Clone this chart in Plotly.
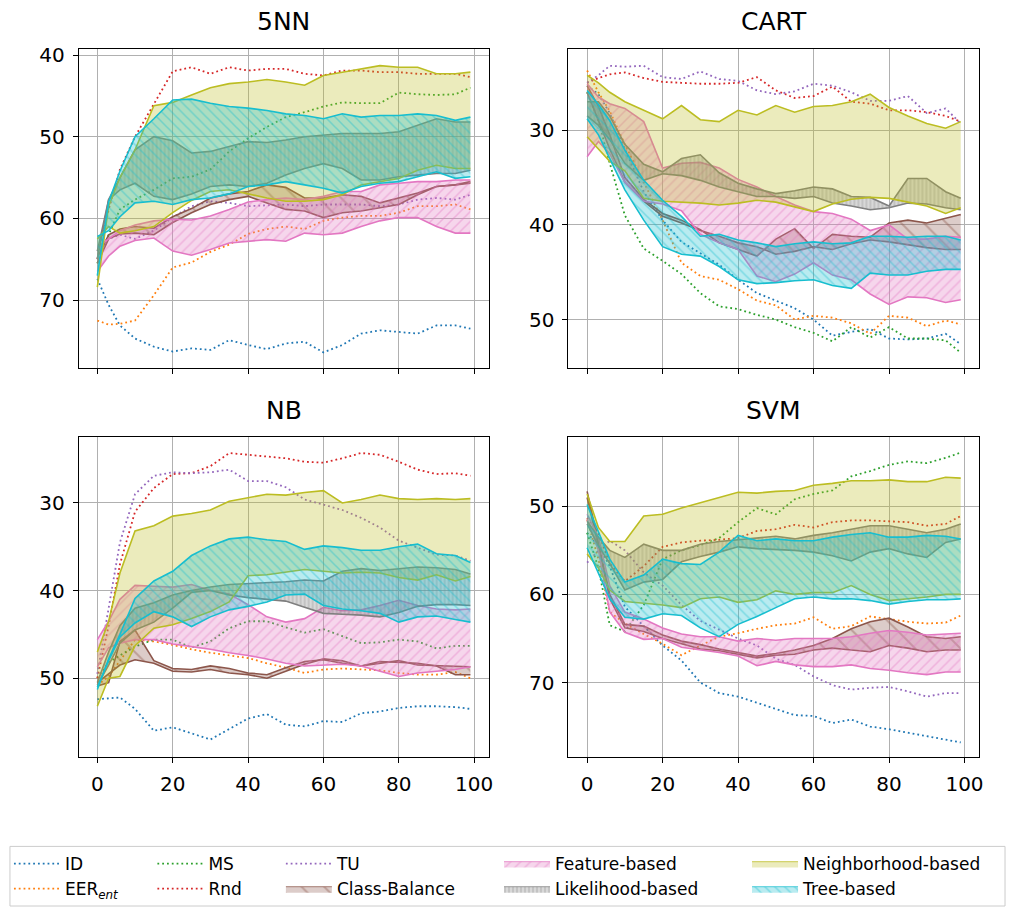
import plotly.graph_objects as go

W, H = 1013, 907
FONT = "DejaVu Sans"

X = [0, 3, 6, 10, 15, 20, 25, 30, 35, 40, 45, 50, 55, 60, 65, 70, 75, 80, 85, 90, 95, 99]

# ---------------- 5NN ----------------
knn_id = [67.4, 70.6, 73.1, 74.7, 75.7, 76.3, 75.9, 76.1, 74.9, 75.5, 76.0, 75.3, 75.1, 76.4, 75.5, 74.1, 73.7, 73.9, 74.1, 73.1, 73.1, 73.5]
knn_eer = [72.5, 73.0, 72.9, 72.5, 69.4, 66.0, 65.4, 64.1, 63.2, 61.9, 61.3, 61.0, 61.3, 60.3, 59.9, 59.7, 59.7, 59.3, 58.5, 58.5, 58.3, 58.9]
knn_ms = [65.5, 62.0, 58.9, 57.7, 56.5, 55.1, 54.9, 54.0, 51.8, 50.2, 48.8, 47.6, 47.0, 46.3, 45.8, 45.9, 45.9, 44.6, 44.8, 44.9, 44.8, 44.0]
knn_rnd = [65.0, 58.9, 54.0, 50.0, 46.0, 42.0, 41.5, 42.3, 41.5, 41.9, 41.7, 41.7, 42.3, 42.5, 41.9, 41.9, 42.1, 42.1, 42.3, 42.3, 42.3, 42.7]
knn_tu = [64.0, 62.5, 62.0, 62.5, 61.5, 59.9, 58.5, 57.9, 58.1, 58.5, 58.4, 58.3, 58.5, 58.3, 58.3, 58.3, 58.5, 58.3, 57.7, 57.5, 57.7, 57.1]
knn_cb_a = [64.8, 62.0, 61.3, 61.0, 61.2, 59.8, 58.8, 57.5, 57.0, 56.7, 55.9, 56.2, 57.5, 57.5, 57.1, 57.3, 58.1, 57.5, 56.9, 56.1, 55.9, 55.5]
knn_cb_b = [65.5, 62.5, 61.9, 61.8, 62.0, 60.5, 59.3, 58.3, 57.7, 57.3, 58.1, 58.9, 59.1, 59.9, 59.3, 59.1, 58.7, 58.3, 57.1, 56.1, 55.9, 55.7]
knn_fb_a = [63.5, 62.5, 61.5, 60.8, 60.3, 60.1, 60.2, 59.7, 58.9, 58.0, 57.7, 57.5, 57.7, 57.3, 56.7, 56.7, 55.9, 55.7, 55.5, 55.5, 55.3, 55.3]
knn_fb_b = [66.5, 64.6, 63.4, 62.7, 62.4, 64.0, 64.5, 63.8, 63.0, 62.8, 62.6, 62.8, 61.8, 62.0, 61.8, 61.0, 60.3, 59.9, 59.9, 61.0, 61.8, 61.8]
knn_lb_a = [64.0, 57.7, 55.0, 51.6, 50.0, 50.5, 52.0, 51.8, 51.2, 50.6, 50.7, 50.4, 50.0, 49.8, 49.6, 49.6, 49.6, 49.4, 48.6, 47.8, 48.2, 48.2]
knn_lb_b = [65.0, 57.7, 56.5, 55.7, 57.3, 57.7, 57.0, 56.1, 55.9, 56.1, 55.7, 54.7, 53.9, 53.3, 53.9, 55.3, 55.3, 54.9, 54.7, 54.5, 54.5, 54.1]
knn_nb_a = [68.4, 58.5, 55.0, 51.6, 46.2, 45.8, 44.9, 44.0, 43.5, 43.3, 43.0, 43.3, 43.7, 42.5, 42.1, 41.7, 41.3, 41.5, 41.5, 42.3, 42.3, 42.1]
knn_nb_b = [62.5, 61.0, 61.8, 61.5, 61.0, 59.3, 57.8, 56.7, 56.5, 57.0, 57.5, 57.9, 57.9, 57.7, 57.1, 55.9, 55.5, 55.1, 54.1, 53.5, 53.9, 53.9]
knn_tb_a = [67.0, 58.0, 54.2, 50.0, 47.8, 45.5, 45.4, 45.9, 46.3, 46.5, 46.8, 47.2, 47.4, 47.8, 47.2, 47.6, 47.4, 47.4, 47.2, 47.4, 48.0, 47.6]
knn_tb_b = [62.2, 61.5, 59.8, 58.1, 57.9, 58.3, 57.7, 57.5, 57.0, 56.1, 55.9, 55.5, 55.9, 56.3, 56.9, 56.1, 55.7, 55.5, 54.9, 54.3, 55.1, 54.9]

# ---------------- CART ----------------
cart_id = [25.3, 26.2, 28.2, 32.0, 36.5, 39.5, 41.8, 43.0, 44.2, 45.8, 47.2, 48.0, 48.8, 50.0, 51.7, 51.3, 51.0, 52.0, 52.1, 52.0, 51.5, 52.6]
cart_eer = [23.7, 26.0, 28.0, 31.5, 35.5, 39.5, 44.0, 45.4, 45.8, 46.8, 48.0, 48.5, 50.0, 49.6, 49.8, 50.4, 51.5, 49.6, 49.8, 50.7, 50.1, 50.5]
cart_ms = [26.0, 29.0, 33.5, 39.0, 42.5, 43.8, 45.2, 47.2, 48.6, 48.9, 49.5, 50.0, 50.8, 51.4, 52.3, 50.8, 51.9, 50.8, 52.0, 52.0, 52.2, 53.5]
cart_rnd = [25.0, 24.5, 24.1, 23.9, 24.5, 24.9, 25.0, 25.1, 25.1, 25.0, 24.4, 25.8, 26.6, 26.4, 25.4, 27.0, 27.2, 27.9, 27.9, 28.1, 28.5, 29.1]
cart_tu = [25.0, 24.2, 23.2, 23.3, 23.2, 24.4, 24.6, 23.8, 24.6, 24.8, 25.8, 26.2, 25.9, 25.1, 25.3, 26.0, 26.9, 26.9, 26.4, 28.2, 27.7, 29.3]
cart_cb_a = [25.3, 27.5, 30.5, 35.0, 37.3, 38.8, 39.5, 40.5, 41.9, 42.6, 43.3, 41.5, 40.4, 42.5, 41.0, 41.2, 41.3, 39.8, 39.5, 39.8, 39.3, 38.9]
cart_cb_b = [26.0, 29.0, 32.0, 35.5, 37.5, 39.1, 39.8, 40.6, 41.2, 41.9, 42.3, 43.1, 42.8, 42.3, 42.6, 42.0, 41.6, 41.8, 42.1, 42.4, 42.6, 42.6]
cart_fb_a = [25.1, 26.5, 27.2, 27.7, 29.1, 34.0, 33.5, 33.4, 34.0, 35.2, 36.0, 37.0, 37.9, 38.6, 38.8, 39.4, 40.6, 40.0, 41.5, 41.5, 41.2, 41.3]
cart_fb_b = [32.8, 31.2, 32.5, 35.5, 37.5, 37.8, 38.5, 41.0, 41.9, 42.6, 45.4, 46.0, 45.2, 44.0, 45.3, 45.8, 47.3, 48.4, 47.6, 47.7, 48.2, 47.9]
cart_lb_a = [27.0, 27.0, 28.5, 31.5, 33.6, 34.4, 33.0, 32.6, 34.5, 35.6, 36.2, 36.7, 36.4, 36.0, 36.2, 37.0, 37.1, 38.0, 35.1, 35.1, 36.5, 37.2]
cart_lb_b = [28.5, 29.5, 31.0, 33.5, 35.3, 34.6, 34.8, 35.3, 36.0, 36.5, 37.0, 37.0, 37.2, 37.0, 37.7, 38.0, 38.4, 38.2, 37.7, 37.8, 38.2, 38.4]
cart_nb_a = [24.2, 25.0, 26.0, 27.0, 27.9, 28.8, 27.4, 28.9, 29.1, 27.9, 28.4, 27.4, 28.1, 27.5, 27.4, 27.0, 26.2, 27.6, 28.5, 29.3, 29.8, 29.1]
cart_nb_b = [30.7, 32.0, 33.3, 34.3, 37.2, 37.5, 37.6, 37.7, 37.9, 37.7, 37.4, 37.6, 38.1, 38.6, 37.8, 37.3, 37.1, 37.2, 37.6, 38.0, 38.8, 38.2]
cart_tb_a = [25.8, 27.3, 29.0, 32.1, 35.3, 37.4, 39.1, 41.2, 41.0, 41.6, 41.9, 42.3, 42.0, 41.8, 42.0, 41.9, 41.2, 41.2, 41.3, 41.2, 41.2, 41.6]
cart_tb_b = [28.8, 30.5, 33.0, 36.3, 39.5, 42.3, 43.1, 43.3, 44.4, 45.8, 46.2, 46.1, 45.9, 45.8, 46.4, 46.7, 45.1, 45.3, 45.3, 44.9, 44.7, 44.7]

# ---------------- NB ----------------
nb_id = [52.4, 52.3, 52.2, 53.5, 56.0, 55.6, 56.3, 57.0, 55.8, 54.6, 54.1, 55.3, 55.5, 54.9, 55.0, 54.0, 53.8, 53.4, 53.2, 53.2, 53.3, 53.5]
nb_eer = [50.8, 49.8, 48.0, 45.6, 45.8, 46.2, 46.7, 47.1, 47.4, 47.7, 48.3, 48.8, 49.4, 49.0, 48.9, 49.0, 49.1, 49.4, 49.6, 49.6, 49.3, 50.0]
nb_ms = [50.0, 48.2, 47.4, 46.4, 45.6, 45.6, 46.5, 45.8, 44.3, 43.5, 43.5, 44.2, 44.8, 44.4, 45.2, 46.0, 45.9, 45.6, 45.8, 46.6, 46.3, 46.3]
nb_rnd = [50.0, 44.0, 37.0, 31.0, 28.3, 26.7, 26.6, 25.8, 24.3, 24.5, 24.7, 24.9, 25.3, 25.4, 24.9, 24.3, 24.5, 25.3, 26.2, 26.7, 26.6, 26.9]
nb_tu = [49.5, 42.0, 34.5, 29.0, 26.9, 26.5, 26.6, 26.5, 26.2, 27.5, 27.5, 28.2, 29.6, 30.2, 30.8, 31.7, 32.8, 34.3, 35.1, 35.9, 36.0, 36.6]
nb_cb_a = [50.9, 50.5, 45.8, 44.5, 48.0, 48.9, 49.0, 48.6, 48.9, 49.4, 49.6, 48.8, 48.1, 47.9, 48.3, 48.6, 48.1, 48.2, 48.3, 48.6, 49.6, 49.6]
nb_cb_b = [50.5, 49.5, 48.5, 47.9, 48.3, 49.2, 49.3, 49.0, 49.4, 49.6, 50.0, 49.2, 48.4, 47.8, 48.0, 48.6, 48.3, 48.0, 48.5, 48.6, 48.7, 48.7]
nb_fb_a = [45.6, 43.5, 41.0, 39.4, 39.5, 39.6, 39.3, 40.0, 40.4, 41.6, 43.0, 43.6, 43.2, 41.9, 42.3, 42.2, 41.7, 41.1, 41.7, 42.1, 42.2, 42.1]
nb_fb_b = [48.7, 46.5, 46.0, 45.6, 45.6, 46.1, 46.4, 46.7, 47.1, 47.4, 47.8, 48.3, 48.6, 48.5, 48.4, 48.6, 49.2, 49.8, 49.4, 49.2, 49.0, 48.7]
nb_lb_a = [50.5, 47.0, 44.0, 42.0, 41.4, 40.5, 40.0, 39.6, 39.3, 39.2, 39.1, 39.0, 38.8, 38.9, 37.8, 37.5, 37.7, 37.5, 37.3, 37.4, 37.6, 38.1]
nb_lb_b = [50.8, 48.5, 46.0, 44.5, 43.6, 42.0, 40.2, 40.0, 40.5, 40.8, 41.0, 41.2, 41.9, 42.6, 42.7, 42.8, 43.0, 42.5, 41.8, 41.6, 41.6, 41.7]
nb_nb_a = [47.0, 43.5, 38.0, 33.2, 32.6, 31.5, 31.2, 30.8, 29.8, 29.4, 29.0, 29.1, 28.8, 28.6, 30.0, 29.6, 29.1, 29.5, 29.6, 29.5, 29.6, 29.5]
nb_nb_b = [53.2, 50.0, 49.8, 46.3, 44.3, 43.9, 43.2, 42.4, 41.3, 38.3, 38.2, 37.9, 37.6, 37.8, 38.0, 37.9, 38.0, 38.5, 38.8, 38.2, 38.9, 38.4]
nb_tb_a = [51.3, 47.8, 45.0, 40.9, 38.9, 37.8, 36.0, 34.9, 34.1, 33.9, 34.2, 34.4, 35.3, 34.9, 35.1, 35.4, 35.4, 35.0, 34.7, 35.8, 36.0, 36.8]
nb_tb_b = [51.0, 48.0, 45.3, 43.7, 42.4, 43.0, 44.1, 43.0, 42.2, 41.8, 41.3, 40.5, 40.4, 41.7, 42.1, 42.3, 42.6, 43.6, 43.0, 42.9, 43.3, 43.6]

# ---------------- SVM ----------------
svm_id = [53.0, 54.5, 56.8, 61.4, 63.6, 65.8, 67.5, 70.0, 71.2, 71.6, 72.3, 73.0, 73.7, 73.8, 74.6, 74.2, 75.0, 75.3, 75.7, 76.1, 76.5, 76.8]
svm_eer = [51.5, 56.0, 62.0, 63.3, 64.5, 65.6, 66.9, 65.8, 64.8, 64.4, 63.9, 63.5, 63.3, 62.6, 63.9, 63.6, 62.5, 62.8, 63.1, 63.3, 63.2, 62.4]
svm_ms = [53.0, 57.0, 63.5, 64.2, 61.2, 56.0, 55.0, 54.4, 53.6, 51.8, 50.2, 50.9, 49.2, 48.6, 48.2, 46.6, 46.0, 45.3, 44.9, 45.1, 44.5, 43.9]
svm_rnd = [51.3, 53.0, 56.5, 58.5, 56.8, 54.6, 54.1, 53.9, 53.8, 53.6, 52.8, 52.6, 52.1, 52.4, 51.8, 51.6, 51.6, 51.7, 51.8, 52.2, 52.0, 51.1]
svm_tu = [56.4, 55.0, 53.9, 55.0, 57.5, 59.0, 61.2, 63.0, 64.0, 65.0, 65.8, 67.3, 68.0, 69.3, 70.3, 70.8, 70.6, 70.5, 71.0, 71.6, 71.2, 71.2]
svm_cb_a = [48.3, 54.0, 60.0, 63.4, 63.6, 64.6, 65.3, 65.7, 66.2, 66.6, 67.0, 66.7, 66.3, 65.8, 65.0, 63.9, 63.1, 62.7, 63.7, 64.8, 65.0, 64.8]
svm_cb_b = [49.0, 54.5, 60.5, 63.8, 64.2, 65.0, 65.6, 66.2, 66.4, 66.8, 67.2, 66.9, 66.8, 66.3, 66.1, 66.3, 66.5, 65.8, 66.1, 66.5, 66.3, 66.3]
svm_fb_a = [50.9, 53.5, 59.0, 62.0, 62.8, 63.8, 64.5, 64.8, 64.8, 65.3, 65.0, 65.2, 65.0, 65.0, 65.0, 64.8, 64.4, 64.1, 64.3, 64.6, 64.5, 64.4]
svm_fb_b = [51.5, 55.0, 62.0, 64.3, 65.1, 65.0, 66.0, 66.3, 66.6, 67.0, 68.1, 67.6, 68.0, 68.2, 68.2, 68.0, 68.4, 68.6, 68.9, 69.1, 68.8, 68.8]
svm_lb_a = [51.7, 53.5, 55.0, 55.8, 54.3, 55.0, 55.0, 54.3, 54.0, 53.8, 53.6, 53.4, 53.7, 53.3, 53.0, 52.6, 52.2, 52.2, 52.6, 53.0, 52.6, 52.0]
svm_lb_b = [52.0, 54.5, 56.5, 59.5, 58.6, 58.3, 56.3, 55.7, 55.2, 54.6, 54.8, 54.9, 55.0, 55.2, 55.6, 56.2, 55.2, 54.8, 55.4, 55.8, 54.1, 53.7]
svm_nb_a = [48.6, 52.4, 54.0, 54.0, 51.1, 50.9, 50.2, 49.6, 49.0, 48.4, 48.5, 48.3, 48.2, 47.6, 47.4, 47.1, 47.1, 47.0, 47.2, 47.2, 46.7, 46.8]
svm_nb_b = [55.4, 57.0, 59.5, 60.8, 61.0, 61.2, 61.5, 60.5, 60.3, 60.9, 60.6, 59.6, 60.0, 59.8, 59.8, 59.0, 60.0, 60.7, 60.5, 60.3, 60.0, 60.0]
svm_tb_a = [49.8, 53.0, 56.0, 58.6, 57.8, 56.0, 56.5, 56.6, 55.2, 53.3, 53.9, 53.7, 53.9, 53.9, 53.5, 53.2, 53.0, 53.5, 53.5, 53.3, 53.4, 53.7]
svm_tb_b = [54.7, 57.5, 60.5, 62.6, 62.8, 62.2, 62.4, 63.8, 64.8, 63.4, 62.5, 61.5, 60.5, 60.3, 60.5, 60.5, 60.7, 61.1, 60.8, 60.6, 60.6, 60.5]

TITLES = ["5NN", "CART", "NB", "SVM"]
Y_TICKS = [[40, 50, 60, 70], [30, 40, 50], [30, 40, 50], [50, 60, 70]]
X_TICKS = [0, 20, 40, 60, 80, 100]

LINE_NAMES = ["ID", "EER<sub><i>ent</i></sub>", "MS", "Rnd", "TU"]
LINE_COLORS = ["#1f77b4", "#ff7f0e", "#2ca02c", "#d62728", "#9467bd"]
LINE_LEGENDS = ["legend", "legend", "legend2", "legend2", "legend3"]

BAND_NAMES = ["Class-Balance", "Feature-based", "Likelihood-based", "Neighborhood-based", "Tree-based"]
BAND_COLORS = ["#8c564b", "#e377c2", "#7f7f7f", "#bcbd22", "#17becf"]
BAND_LEGENDS = ["legend3", "legend4", "legend4", "legend5", "legend5"]
BAND_HATCH = [("\\", 16, 0.12), ("/", 7, 0.22), ("|", 4, 0.3), ("", 8, 0.2), ("\\", 7, 0.22)]

panels = [
    dict(lines=[knn_id, knn_eer, knn_ms, knn_rnd, knn_tu],
         bands=[(knn_cb_a, knn_cb_b), (knn_fb_a, knn_fb_b), (knn_lb_a, knn_lb_b), (knn_nb_a, knn_nb_b), (knn_tb_a, knn_tb_b)]),
    dict(lines=[cart_id, cart_eer, cart_ms, cart_rnd, cart_tu],
         bands=[(cart_cb_a, cart_cb_b), (cart_fb_a, cart_fb_b), (cart_lb_a, cart_lb_b), (cart_nb_a, cart_nb_b), (cart_tb_a, cart_tb_b)]),
    dict(lines=[nb_id, nb_eer, nb_ms, nb_rnd, nb_tu],
         bands=[(nb_cb_a, nb_cb_b), (nb_fb_a, nb_fb_b), (nb_lb_a, nb_lb_b), (nb_nb_a, nb_nb_b), (nb_tb_a, nb_tb_b)]),
    dict(lines=[svm_id, svm_eer, svm_ms, svm_rnd, svm_tu],
         bands=[(svm_cb_a, svm_cb_b), (svm_fb_a, svm_fb_b), (svm_lb_a, svm_lb_b), (svm_nb_a, svm_nb_b), (svm_tb_a, svm_tb_b)]),
]

# axes geometry in pixels: (left, right, top, bottom) and y range (bottom value, top value)
GEOM = [(79, 491, 43, 364), (570.7, 983.3, 43, 364), (79, 491, 434.3, 755.7), (570.7, 983.3, 434.3, 755.7)]
YRANGES = [[78.26, 39.23], [55.07, 21.4], [58.96, 22.52], [78.42, 42.18]]
XRANGE = [-4.95, 103.95]


def rgba(hexc, a):
    h = hexc.lstrip("#")
    return "rgba(%d,%d,%d,%.3f)" % (int(h[0:2], 16), int(h[2:4], 16), int(h[4:6], 16), a)


def pattern(j):
    shape, size, sol = BAND_HATCH[j]
    if not shape:
        return {}
    return dict(fillpattern=dict(shape=shape, size=size, solidity=sol, fgcolor=BAND_COLORS[j],
                                 fgopacity=0.4, fillmode="overlay"))


fig = go.Figure()

for p, panel in enumerate(panels):
    xa = "x" if p == 0 else "x%d" % (p + 1)
    ya = "y" if p == 0 else "y%d" % (p + 1)
    first = p == 0
    for i, ys in enumerate(panel["lines"]):
        fig.add_trace(go.Scatter(
            x=X, y=ys, xaxis=xa, yaxis=ya, mode="lines",
            line=dict(color=LINE_COLORS[i], width=1.8, dash="1.8px,3px"),
            name=LINE_NAMES[i], legend=LINE_LEGENDS[i], showlegend=first,
            hoverinfo="skip"))
    for j, (ya_vals, yb_vals) in enumerate(panel["bands"]):
        col = BAND_COLORS[j]
        fig.add_trace(go.Scatter(
            x=X, y=ya_vals, xaxis=xa, yaxis=ya, mode="lines",
            line=dict(color=col, width=1.6), showlegend=False,
            name=BAND_NAMES[j], hoverinfo="skip"))
        fig.add_trace(go.Scatter(
            x=X, y=yb_vals, xaxis=xa, yaxis=ya, mode="lines",
            line=dict(color=col, width=1.6), fill="tonexty",
            fillcolor=rgba(col, 0.3), name=BAND_NAMES[j],
            showlegend=False, hoverinfo="skip", **pattern(j)))

# legend entries for the bands (patch style)
for j, name in enumerate(BAND_NAMES):
    col = BAND_COLORS[j]
    fig.add_trace(go.Scatter(
        x=[None], y=[None], xaxis="x", yaxis="y", mode="lines",
        line=dict(color=rgba(col, 0.6), width=1.2), fill="toself",
        fillcolor=rgba(col, 0.3), name=name, legend=BAND_LEGENDS[j],
        showlegend=True, hoverinfo="skip", **pattern(j)))

layout = dict(
    width=W, height=H, margin=dict(l=0, r=0, t=0, b=0),
    paper_bgcolor="white", plot_bgcolor="white",
    font=dict(family=FONT, size=20, color="black"),
    showlegend=True,
)

for p in range(4):
    l, r, t, b = GEOM[p]
    xk = "xaxis" if p == 0 else "xaxis%d" % (p + 1)
    yk = "yaxis" if p == 0 else "yaxis%d" % (p + 1)
    xa = "x" if p == 0 else "x%d" % (p + 1)
    ya = "y" if p == 0 else "y%d" % (p + 1)
    layout[xk] = dict(domain=[l / W, r / W], range=XRANGE, anchor=ya,
                      tickvals=X_TICKS, showticklabels=(p >= 2),
                      ticks="outside", ticklen=5, tickwidth=1, tickcolor="black",
                      showgrid=True, gridcolor="#b0b0b0", gridwidth=1,
                      showline=True, linecolor="black", linewidth=1, mirror=True,
                      zeroline=False, tickfont=dict(size=20, family=FONT),
                      ticklabelstandoff=4)
    layout[yk] = dict(domain=[1 - b / H, 1 - t / H], range=YRANGES[p], anchor=xa,
                      tickvals=Y_TICKS[p],
                      ticks="outside", ticklen=5, tickwidth=1, tickcolor="black",
                      showgrid=True, gridcolor="#b0b0b0", gridwidth=1,
                      showline=True, linecolor="black", linewidth=1, mirror=True,
                      zeroline=False, tickfont=dict(size=20, family=FONT),
                      ticklabelstandoff=4)

annotations = []
for p in range(4):
    l, r, t, b = GEOM[p]
    annotations.append(dict(text=TITLES[p], xref="paper", yref="paper",
                            x=(l + r) / 2 / W, y=1 - (t - 27) / H,
                            xanchor="center", yanchor="middle", showarrow=False,
                            font=dict(size=25, family=FONT, color="black")))
layout["annotations"] = annotations

# legend: five columns, each a small legend of two entries
LEG_X = [9, 153, 282, 501, 750]
for k, lx in enumerate(LEG_X):
    key = "legend" if k == 0 else "legend%d" % (k + 1)
    layout[key] = dict(x=lx / W, y=1 - 846 / H, xanchor="left", yanchor="top",
                       orientation="v", traceorder="normal",
                       bgcolor="rgba(0,0,0,0)", borderwidth=0,
                       itemwidth=46, font=dict(size=17, family=FONT, color="black"),
                       tracegroupgap=0)

layout["shapes"] = [dict(type="rect", xref="paper", yref="paper",
                         x0=10 / W, x1=1009 / W, y0=1 - 906 / H, y1=1 - 846 / H,
                         line=dict(color="#cccccc", width=1), fillcolor="rgba(0,0,0,0)")]

fig.update_layout(**layout)
fig.write_html("out.html")
